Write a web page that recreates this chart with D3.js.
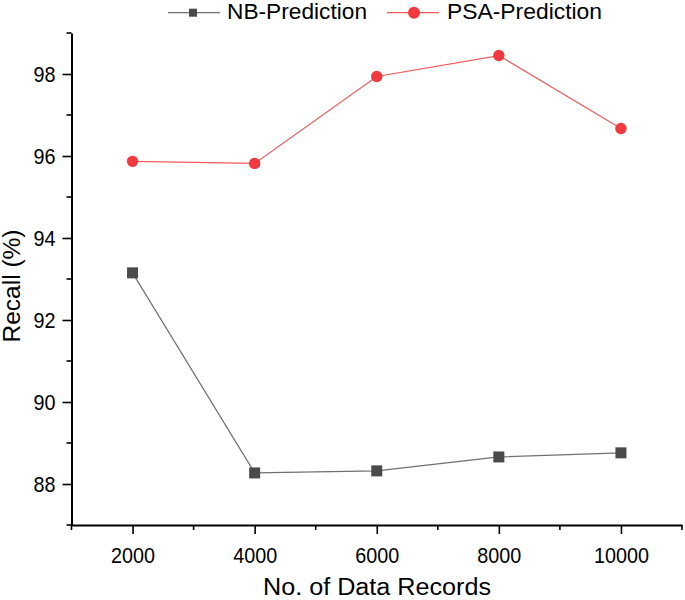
<!DOCTYPE html>
<html><head><meta charset="utf-8">
<script src="https://cdn.jsdelivr.net/npm/d3@7"></script>
<style>body{margin:0;background:#fff}svg{display:block;font-family:Arial,"Liberation Sans",sans-serif}</style>
</head><body><svg id="c" width="685" height="600"></svg>
<script>
const records = [2000, 4000, 6000, 8000, 10000];
const nbRecall = [93.15, 88.27, 88.32, 88.66, 88.76];
const psaRecall = [95.87, 95.82, 97.94, 98.45, 96.67];
const xTicks = [2000, 4000, 6000, 8000, 10000];
const yTicks = [88, 90, 92, 94, 96, 98];
const seriesNames = ["NB-Prediction", "PSA-Prediction"];

const FONT = "Arial, 'Liberation Sans', sans-serif";
const svg = d3.select("#c");
const x = d3.scaleLinear().domain([1000, 11000]).range([71.5, 682]);
const y = d3.scaleLinear().domain([87, 99]).range([525, 33]);

const xMinor = d3.range(1000, 11001, 1000).filter(v => !xTicks.includes(v));
const yMinor = d3.range(87, 99.01, 1).filter(v => !yTicks.includes(v));

const gx = svg.append("g").attr("transform", "translate(0,525)");
gx.call(d3.axisBottom(x).tickValues(xTicks).tickSize(9).tickSizeOuter(0).tickFormat(d3.format("d")));
gx.append("g").selectAll("line").data(xMinor).join("line")
  .attr("x1", d => x(d)).attr("x2", d => x(d)).attr("y1", 0).attr("y2", 5)
  .attr("stroke", "#000").attr("stroke-width", 1.6);

const gy = svg.append("g").attr("transform", "translate(71.5,0)");
gy.call(d3.axisLeft(y).tickValues(yTicks).tickSize(9).tickSizeOuter(0));
gy.append("g").selectAll("line").data(yMinor).join("line")
  .attr("y1", d => y(d)).attr("y2", d => y(d)).attr("x1", 0).attr("x2", -5)
  .attr("stroke", "#000").attr("stroke-width", 1.6);

[gx, gy].forEach(g => {
  g.select(".domain").attr("stroke", "#000").attr("stroke-width", 2);
  g.selectAll(".tick line").attr("stroke", "#000").attr("stroke-width", 1.6);
  g.selectAll(".tick text").attr("font-size", 22).attr("fill", "#000").attr("font-family", FONT)
    .attr("lengthAdjust", "spacingAndGlyphs");
});
gx.selectAll(".tick text").attr("y", 37.7).attr("dy", 0)
  .attr("textLength", function() { return this.textContent.length * 11; });
gy.selectAll(".tick text").attr("x", -16).attr("dy", "0.36em")
  .attr("textLength", function() { return this.textContent.length * 11; });

// Axis titles
svg.append("text").attr("x", 377).attr("y", 595).attr("text-anchor", "middle")
  .attr("font-size", 23).attr("fill", "#000")
  .attr("textLength", 228).attr("lengthAdjust", "spacingAndGlyphs").text("No. of Data Records");
svg.append("text").attr("transform", "translate(20,286) rotate(-90)").attr("text-anchor", "middle")
  .attr("font-size", 23).attr("fill", "#000")
  .attr("textLength", 113).attr("lengthAdjust", "spacingAndGlyphs").text("Recall (%)");

// Lines
const line = d3.line().x(d => x(d[0])).y(d => y(d[1]));
const nbData = records.map((r, i) => [r, nbRecall[i]]);
const psaData = records.map((r, i) => [r, psaRecall[i]]);

svg.append("path").datum(nbData).attr("d", line).attr("fill", "none").attr("stroke", "#707070").attr("stroke-width", 1.2);
svg.append("path").datum(psaData).attr("d", line).attr("fill", "none").attr("stroke", "#f4595c").attr("stroke-width", 1.2);

svg.append("g").selectAll("rect").data(nbData).join("rect")
  .attr("x", d => x(d[0]) - 5.5).attr("y", d => y(d[1]) - 5.5).attr("width", 11).attr("height", 11)
  .attr("fill", "#4a4a4a");
svg.append("g").selectAll("circle").data(psaData).join("circle")
  .attr("cx", d => x(d[0])).attr("cy", d => y(d[1])).attr("r", 5.7)
  .attr("fill", "#f2393f");

// Legend
const lg = svg.append("g");
lg.append("line").attr("x1", 168).attr("x2", 220).attr("y1", 12.7).attr("y2", 12.7).attr("stroke", "#707070").attr("stroke-width", 1.3);
lg.append("rect").attr("x", 189).attr("y", 8.7).attr("width", 8).attr("height", 8).attr("fill", "#4a4a4a");
lg.append("text").attr("x", 227).attr("y", 18.5).attr("font-size", 22).attr("fill", "#000")
  .attr("textLength", 140).attr("lengthAdjust", "spacingAndGlyphs").text(seriesNames[0]);
lg.append("line").attr("x1", 387).attr("x2", 439).attr("y1", 12.7).attr("y2", 12.7).attr("stroke", "#f4595c").attr("stroke-width", 1.3);
lg.append("circle").attr("cx", 414).attr("cy", 12.7).attr("r", 6).attr("fill", "#f2393f");
lg.append("text").attr("x", 447).attr("y", 18.5).attr("font-size", 22).attr("fill", "#000")
  .attr("textLength", 155).attr("lengthAdjust", "spacingAndGlyphs").text(seriesNames[1]);
</script></body></html>
